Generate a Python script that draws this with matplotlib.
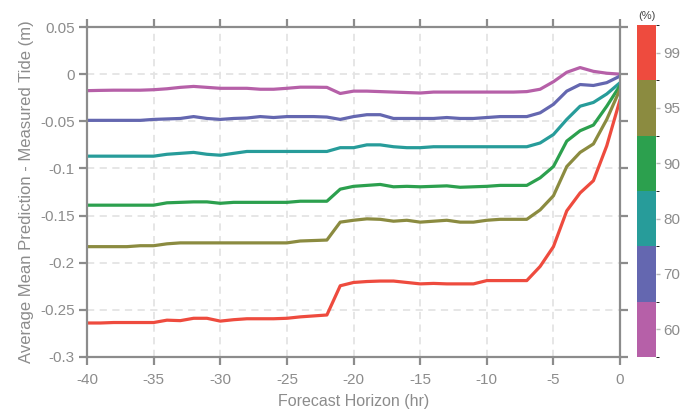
import numpy as np
import matplotlib
matplotlib.use("Agg")
import matplotlib.pyplot as plt
from matplotlib.colors import ListedColormap, BoundaryNorm
from matplotlib.colorbar import ColorbarBase

plt.rcParams['font.family'] = ['Liberation Sans', 'DejaVu Sans']
plt.rcParams['axes.unicode_minus'] = False

# Forecast horizon (hr)
hours = np.arange(-40, 1, 1)

# Percentile levels and colours
levels = [60, 70, 80, 90, 95, 99]
colors = ['#b660a8', '#6467b0', '#279c9a', '#2ca04e', '#8b8b40', '#ee4b3e']

# Average mean prediction - measured tide (m), one series per percentile
p60 = [-0.0175, -0.0172, -0.017, -0.017, -0.017, -0.0165, -0.0155, -0.014, -0.013, -0.014,
       -0.015, -0.015, -0.015, -0.016, -0.016, -0.015, -0.0138, -0.0138, -0.014, -0.0205,
       -0.018, -0.018, -0.0185, -0.019, -0.0195, -0.020, -0.019, -0.019, -0.019, -0.019,
       -0.019, -0.019, -0.019, -0.0185, -0.016, -0.008, 0.002, 0.007, 0.003, 0.001, 0.0]
p70 = [-0.049, -0.049, -0.049, -0.049, -0.049, -0.048, -0.0475, -0.047, -0.045, -0.047,
       -0.048, -0.047, -0.0465, -0.045, -0.046, -0.045, -0.045, -0.045, -0.0455, -0.048,
       -0.045, -0.043, -0.043, -0.047, -0.047, -0.047, -0.047, -0.046, -0.047, -0.047,
       -0.046, -0.045, -0.045, -0.045, -0.041, -0.032, -0.018, -0.011, -0.012, -0.009, -0.002]
p80 = [-0.087, -0.087, -0.087, -0.087, -0.087, -0.087, -0.085, -0.084, -0.083, -0.085,
       -0.086, -0.084, -0.082, -0.082, -0.082, -0.082, -0.082, -0.082, -0.082, -0.078,
       -0.078, -0.075, -0.075, -0.077, -0.078, -0.078, -0.077, -0.077, -0.077, -0.077,
       -0.077, -0.077, -0.077, -0.077, -0.073, -0.064, -0.048, -0.034, -0.030, -0.021, -0.009]
p90 = [-0.139, -0.139, -0.139, -0.139, -0.139, -0.139, -0.1365, -0.136, -0.1355, -0.1355,
       -0.137, -0.136, -0.136, -0.136, -0.136, -0.136, -0.1348, -0.1348, -0.1348, -0.122,
       -0.119, -0.118, -0.117, -0.1195, -0.119, -0.1195, -0.119, -0.1185, -0.120, -0.1195,
       -0.119, -0.118, -0.118, -0.118, -0.110, -0.098, -0.071, -0.060, -0.054, -0.034, -0.012]
p95 = [-0.183, -0.183, -0.183, -0.183, -0.182, -0.182, -0.180, -0.179, -0.179, -0.179,
       -0.179, -0.179, -0.179, -0.179, -0.179, -0.179, -0.177, -0.1765, -0.176, -0.157,
       -0.155, -0.1535, -0.154, -0.156, -0.155, -0.157, -0.156, -0.155, -0.157, -0.157,
       -0.155, -0.154, -0.154, -0.154, -0.144, -0.129, -0.098, -0.083, -0.074, -0.048, -0.016]
p99 = [-0.264, -0.264, -0.2635, -0.2635, -0.2635, -0.2635, -0.261, -0.2615, -0.259, -0.259,
       -0.262, -0.2605, -0.2595, -0.2595, -0.2595, -0.259, -0.2575, -0.2565, -0.2555, -0.2245,
       -0.221, -0.220, -0.2195, -0.2195, -0.221, -0.2225, -0.222, -0.2225, -0.2225, -0.2225,
       -0.219, -0.219, -0.219, -0.219, -0.204, -0.183, -0.145, -0.126, -0.113, -0.076, -0.027]
series = [p60, p70, p80, p90, p95, p99]

xticks = [-40, -35, -30, -25, -20, -15, -10, -5, 0]
yticks = [-0.3, -0.25, -0.2, -0.15, -0.1, -0.05, 0, 0.05]
ytick_labels = ['-0.3', '-0.25', '-0.2', '-0.15', '-0.1', '-0.05', '0', '0.05']

fig = plt.figure(figsize=(6.95, 4.16), dpi=100)
ax = fig.add_axes([0.1252, 0.142, 0.767, 0.793])

for vals, c in zip(series, colors):
    ax.plot(hours, vals, color=c, lw=2.3, solid_capstyle='round')

ax.set_xlim(-40, 0)
ax.set_ylim(-0.3, 0.05)
ax.set_xticks(xticks)
ax.set_yticks(yticks)
ax.set_yticklabels(ytick_labels)
ax.grid(True, color='#e4e4e4', ls=(0, (4, 3)), lw=1.3)
ax.set_axisbelow(True)

spine_c = '#8c8c8c'
for s in ax.spines.values():
    s.set_color(spine_c)
    s.set_linewidth(1.6)
ax.tick_params(direction='out', length=5.5, width=1.6, color=spine_c,
               labelcolor='#8c8c8c', labelsize=11,
               top=True, right=True, labeltop=False, labelright=False)
ax.tick_params(axis='x', pad=6)
ax.set_xlabel('Forecast Horizon (hr)', color='#8c8c8c', fontsize=11.5, labelpad=5)
ax.set_ylabel('Average Mean Prediction - Measured Tide (m)', color='#8c8c8c', fontsize=12, labelpad=4)

# Discrete colour bar for percentiles
cax = fig.add_axes([0.9165, 0.142, 0.0273, 0.798])
cmap = ListedColormap(colors)
norm = BoundaryNorm(np.arange(len(levels) + 1), cmap.N)
cb = ColorbarBase(cax, cmap=cmap, norm=norm, orientation='vertical')
cb.set_ticks(np.arange(len(levels)) + 0.5)
cb.set_ticklabels([str(v) for v in levels])
cb.outline.set_visible(False)
cax.tick_params(length=3, width=1, color='#bbbbbb', labelcolor='#8c8c8c', labelsize=11, pad=2)
cax.set_title('(%)', fontsize=8, color='#444444', pad=4)

fig.savefig('out.png', dpi=100)
